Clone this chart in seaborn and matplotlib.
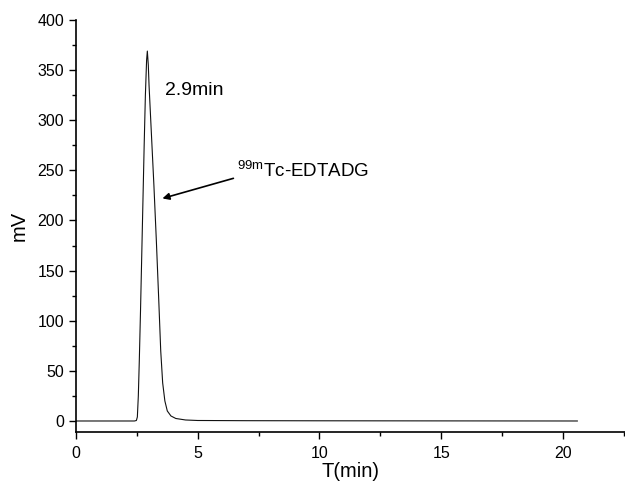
import matplotlib
matplotlib.use("Agg")
import matplotlib.pyplot as plt
from matplotlib.ticker import MultipleLocator
import seaborn as sns
import pandas as pd

time_min = [0.0, 1.0, 2.0, 2.40, 2.48, 2.52, 2.56, 2.60, 2.65, 2.70, 2.75, 2.80, 2.85, 2.90, 2.93,
            2.97, 3.00, 3.10, 3.20, 3.30, 3.40, 3.48, 3.56, 3.65, 3.75, 3.90, 4.10, 4.50, 5.0,
            7.0, 10.0, 15.0, 20.6]
signal_mv = [0.0, 0.0, 0.0, 0.0, 0.5, 4.0, 25.0, 60.0, 110.0, 165.0, 220.0, 275.0, 325.0, 360.0, 369.0,
             355.0, 335.0, 285.0, 235.0, 180.0, 120.0, 70.0, 38.0, 20.0, 10.0, 5.0, 2.5, 1.0, 0.5,
             0.3, 0.2, 0.1, 0.0]

df = pd.DataFrame({"T": time_min, "mV": signal_mv})

sns.set_style("ticks")
plt.rcParams["font.family"] = ["Liberation Sans", "DejaVu Sans"]
plt.rcParams["mathtext.fontset"] = "custom"
plt.rcParams["mathtext.rm"] = "Liberation Sans"
plt.rcParams["mathtext.it"] = "Liberation Sans"
plt.rcParams["text.color"] = "black"
plt.rcParams["axes.labelcolor"] = "black"

fig = plt.figure(figsize=(6.25, 4.84), dpi=100)
ax = fig.add_axes([0.1216, 0.1074, 0.8784, 0.8513])
sns.lineplot(data=df, x="T", y="mV", ax=ax, color="#111111", linewidth=0.8)

ax.set_xlim(0, 22.55)
ax.set_ylim(-11, 400)
ax.xaxis.set_major_locator(MultipleLocator(5))
ax.xaxis.set_minor_locator(MultipleLocator(2.5))
ax.yaxis.set_major_locator(MultipleLocator(50))
ax.yaxis.set_minor_locator(MultipleLocator(25))
ax.tick_params(which="major", direction="out", length=5, width=1, labelsize=11.5,
               colors="black")
ax.tick_params(axis="x", which="major", pad=5)
ax.tick_params(which="minor", direction="out", length=3, width=1, colors="black")
sns.despine(ax=ax)
for s in ["left", "bottom"]:
    ax.spines[s].set_linewidth(1.2)
    ax.spines[s].set_color("black")

ax.set_xlabel("T(min)", fontsize=14.5, labelpad=1)
ax.set_ylabel("mV", fontsize=14.5, labelpad=6)

ax.text(3.65, 330, "2.9min", fontsize=14, ha="left", va="center")
ax.annotate(r"$^{\mathrm{99m}}$Tc-EDTADG", xy=(3.55, 222), xytext=(6.6, 249),
            fontsize=13.5, ha="left", va="center",
            arrowprops=dict(arrowstyle="-|>", color="black", lw=1.2, mutation_scale=10,
                            shrinkA=0, shrinkB=0, relpos=(0, 0.2)))

fig.savefig("out.png", dpi=100)
